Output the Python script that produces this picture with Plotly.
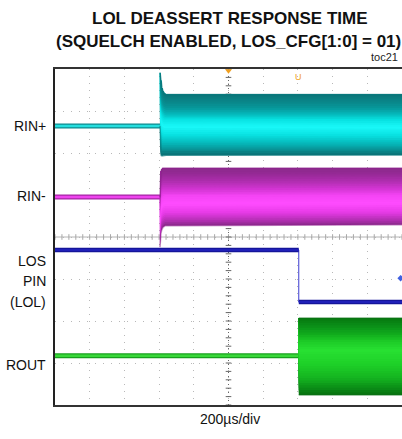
import numpy as np
import plotly.graph_objects as go
from plotly.colors import sample_colorscale

# ---- screen geometry: time in microseconds, vertical in screen divisions ----
t_range = [-1000, 1000]
div_range = [0, 8]
us_per_div = 200

# ---- event times (µs) ----
rin_burst_start_us = -395
los_edge_us = 405

# ---- RIN+ (cyan): idle level, then burst envelope ----
rinp_base = 6.64
rinp_burst_t = [-395, -392, -388, -383, -377, -370, -360, 1000]
rinp_upper = [7.92, 7.82, 7.68, 7.55, 7.47, 7.42, 7.39, 7.39]
rinp_lower = [6.64, 5.98, 5.94, 5.93, 5.94, 5.95, 5.95, 5.95]

# ---- RIN- (magenta) ----
rinn_base = 4.95
rinn_burst_t = [-395, -393, -390, -385, -378, -365, 1000]
rinn_upper = [4.95, 5.45, 5.56, 5.61, 5.64, 5.64, 5.64]
rinn_lower = [3.76, 3.95, 4.08, 4.17, 4.23, 4.27, 4.29]

# ---- LOS pin (blue) ----
los_high = 3.69
los_low = 2.45

# ---- ROUT (green) ----
rout_base = 1.17
rout_burst_t = [405, 1000]
rout_upper = [2.07, 2.07]
rout_lower = [0.24, 0.24]

# ---- labels ----
title_lines = ["LOL DEASSERT RESPONSE TIME", "(SQUELCH ENABLED, LOS_CFG[1:0] = 01)"]
trace_labels = [("RIN+", 6.64), ("RIN-", 4.98), ("LOS", 3.43), ("PIN", 2.95),
                ("(LOL)", 2.45), ("ROUT", 0.95)]
scale_label = "200µs/div"
fig_tag = "toc21"

FONT = "Liberation Sans, Arial, sans-serif"

fig = go.Figure()

# graticule: center cross with sub-division ticks
sub_x = np.arange(t_range[0], t_range[1] + 1, us_per_div / 5)
sub_y = np.arange(div_range[0], div_range[1] + 0.01, 0.2)
mid_t = (t_range[0] + t_range[1]) / 2
mid_d = (div_range[0] + div_range[1]) / 2
fig.add_trace(go.Scatter(x=t_range, y=[mid_d, mid_d], mode="lines",
                         line=dict(color="#b4b4b4", width=1), hoverinfo="skip"))
fig.add_trace(go.Scatter(x=[mid_t, mid_t], y=div_range, mode="lines",
                         line=dict(color="#666666", width=1, dash="1px,3px"), hoverinfo="skip"))
fig.add_trace(go.Scatter(x=sub_x, y=[mid_d] * len(sub_x), mode="markers",
                         marker=dict(symbol="line-ns", size=4, line=dict(color="#a8a8a8", width=1)),
                         hoverinfo="skip"))
fig.add_trace(go.Scatter(x=[mid_t] * len(sub_y), y=sub_y, mode="markers",
                         marker=dict(symbol="line-ew", size=4, line=dict(color="#666666", width=1)),
                         hoverinfo="skip"))


def baseline(t0, t1, level, edge, core, w_edge=5, w_core=2.5):
    fig.add_trace(go.Scatter(x=[t0, t1], y=[level, level], mode="lines",
                             line=dict(color=edge, width=w_edge), hoverinfo="skip"))
    fig.add_trace(go.Scatter(x=[t0, t1], y=[level, level], mode="lines",
                             line=dict(color=core, width=w_core), hoverinfo="skip"))


def burst(t, upper, lower, scale, edge, n_layers=32):
    """Shade the envelope bottom -> top: each layer runs from its start up to the
    upper edge and is painted over the previous one, so no seams show."""
    t = np.asarray(t, float)
    up = np.asarray(upper, float)
    lo = np.asarray(lower, float)
    fracs = np.linspace(0, 1, n_layers + 1)[:-1]
    cols = sample_colorscale(scale, list(fracs + 0.5 / n_layers))
    for f, c in zip(fracs, cols):
        y0 = lo + f * (up - lo)
        fig.add_trace(go.Scatter(x=np.concatenate([t, t[::-1]]),
                                 y=np.concatenate([up, y0[::-1]]),
                                 mode="lines", fill="toself", fillcolor=c,
                                 line=dict(width=0), hoverinfo="skip"))
    for edge_y in (up, lo):
        fig.add_trace(go.Scatter(x=t, y=edge_y, mode="lines",
                                 line=dict(color=edge, width=1.6), hoverinfo="skip"))


# colour position 0 = lower edge, 1 = upper edge
cyan_scale = [[0, "#0b6e72"], [0.06, "#0a8588"], [0.16, "#06aeb0"], [0.32, "#08e0e0"],
              [0.46, "#1af8f8"], [0.58, "#08e2e2"], [0.68, "#05b8ba"], [0.78, "#07979a"],
              [0.9, "#0a8487"], [1, "#0b7478"]]
mag_scale = [[0, "#8a2a8a"], [0.08, "#b02eb0"], [0.22, "#e63ae6"], [0.38, "#ff4cff"],
             [0.52, "#f444f4"], [0.65, "#d034d0"], [0.78, "#ad2ead"], [0.9, "#962a96"],
             [1, "#8a2a8a"]]
green_scale = [[0, "#08700e"], [0.08, "#0a8a16"], [0.22, "#14b420"], [0.4, "#1ed028"],
               [0.58, "#28e032"], [0.7, "#1cca26"], [0.8, "#10a81c"], [0.9, "#0a8e18"],
               [1, "#07780f"]]

# RIN+
baseline(t_range[0], rin_burst_start_us, rinp_base, "#0f8a8e", "#25dede")
burst(rinp_burst_t, rinp_upper, rinp_lower, cyan_scale, "rgba(10,120,124,0.55)")

# RIN-
baseline(t_range[0], rin_burst_start_us, rinn_base, "#a424a4", "#ee44ee")
burst(rinn_burst_t, rinn_upper, rinn_lower, mag_scale, "rgba(140,30,140,0.5)")

# LOS pin step
fig.add_trace(go.Scatter(x=[los_edge_us, los_edge_us], y=[los_high, los_low], mode="lines",
                         line=dict(color="#3a3ad0", width=1), hoverinfo="skip"))
baseline(t_range[0], los_edge_us, los_high, "#15159a", "#2020b8", w_edge=4.5, w_core=2)
baseline(los_edge_us, t_range[1], los_low, "#15159a", "#2020b8", w_edge=4.5, w_core=2)

# ROUT
baseline(t_range[0], los_edge_us, rout_base, "#18a01e", "#38d838")
burst(rout_burst_t, rout_upper, rout_lower, green_scale, "rgba(10,110,20,0.5)")

# scope markers: trigger position, cursor, channel reference
fig.add_trace(go.Scatter(x=[mid_t], y=[div_range[1] - 0.04], mode="markers",
                         marker=dict(symbol="triangle-down", size=6, color="#f0a020"),
                         cliponaxis=False, hoverinfo="skip"))
fig.add_trace(go.Scatter(x=[t_range[1] - 8], y=[3.02], mode="markers",
                         marker=dict(symbol="diamond", size=5, color="#4060e0"),
                         cliponaxis=False, hoverinfo="skip"))

annotations = []
annotations.append(dict(x=los_edge_us, y=7.8, xref="x", yref="y", text="U", showarrow=False,
                        font=dict(family=FONT, size=9, color="#f0a020")))
annotations.append(dict(x=0.504, y=(405 - 18) / 336, xref="paper", yref="paper",
                        text="<b>" + title_lines[0] + "</b>", showarrow=False,
                        xanchor="center", yanchor="middle",
                        font=dict(family=FONT, size=17, color="#111111")))
annotations.append(dict(x=0.501, y=(405 - 41) / 336, xref="paper", yref="paper",
                        text="<b>" + title_lines[1] + "</b>", showarrow=False,
                        xanchor="center", yanchor="middle",
                        font=dict(family=FONT, size=17, color="#111111")))
annotations.append(dict(x=0.995, y=(405 - 57) / 336, xref="paper", yref="paper",
                        text=fig_tag, showarrow=False, xanchor="right", yanchor="middle",
                        font=dict(family=FONT, size=11, color="#222222")))
for txt, yv in trace_labels:
    annotations.append(dict(x=-0.02, y=yv, xref="paper", yref="y", text=txt, showarrow=False,
                            xanchor="right", yanchor="middle",
                            font=dict(family=FONT, size=14, color="#111111")))
annotations.append(dict(x=0.504, y=(405 - 419) / 336, xref="paper", yref="paper",
                        text=scale_label, showarrow=False, xanchor="center", yanchor="middle",
                        font=dict(family=FONT, size=14, color="#111111")))

fig.update_layout(
    width=402, height=439,
    margin=dict(l=55, r=0, t=69, b=34),
    paper_bgcolor="white", plot_bgcolor="white",
    showlegend=False,
    annotations=annotations,
    xaxis=dict(range=t_range, tick0=t_range[0], dtick=us_per_div, showticklabels=False,
               ticks="", showgrid=True, gridcolor="#b8b8b8", gridwidth=1, griddash="1px,6px",
               zeroline=False, showline=True, linecolor="#333333", linewidth=2, mirror=True,
               fixedrange=True),
    yaxis=dict(range=div_range, tick0=0, dtick=1, showticklabels=False, ticks="",
               showgrid=True, gridcolor="#b8b8b8", gridwidth=1, griddash="1px,7px",
               zeroline=False, showline=True, linecolor="#222222", linewidth=2, mirror=False,
               fixedrange=True),
)

fig.write_html("out.html")
